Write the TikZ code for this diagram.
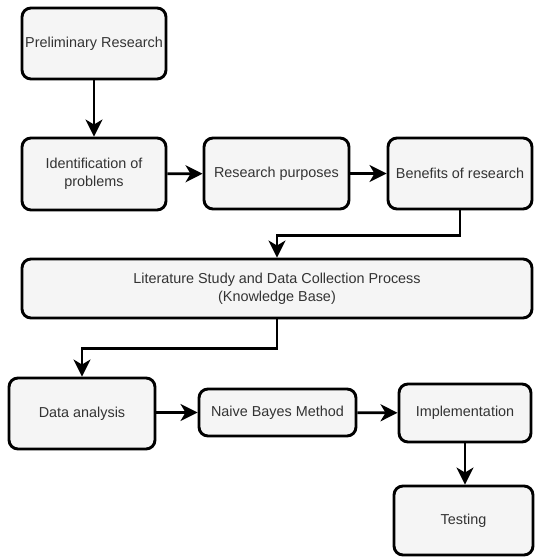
\documentclass[tikz,border=0pt]{standalone}
\usepackage{fontspec}
\setmainfont{Liberation Sans}
\usetikzlibrary{arrows.meta,positioning}
\definecolor{boxfill}{HTML}{F5F5F5}
\definecolor{txt}{HTML}{333333}
\tikzset{
  stepbox/.style={draw=black, fill=boxfill, line width=2.9pt, rounded corners=9pt,
    inner sep=0pt, align=center, text=txt,
    font=\fontsize{14.4}{18}\selectfont},
  arr/.style={line width=2.8pt, -{Stealth[length=17pt,width=17pt,inset=5pt]}}
}
\begin{document}
\begin{tikzpicture}[x=1pt,y=-1pt]
\useasboundingbox (0,0) rectangle (535,558);
\node[stepbox, minimum width=144pt, minimum height=71pt] (b1) at (94,43.5) {Preliminary Research};
\node[stepbox, minimum width=144pt, minimum height=72pt] (b2) at (94,174) {Identification of\\problems};
\node[stepbox, minimum width=145pt, minimum height=71pt] (b3) at (276.5,173.5) {Research purposes};
\node[stepbox, minimum width=144pt, minimum height=71pt] (b4) at (460,173.5) {Benefits of research};
\node[stepbox, minimum width=510pt, minimum height=59pt] (b5) at (277,288.5) {Literature Study and Data Collection Process\\(Knowledge Base)};
\node[stepbox, minimum width=146pt, minimum height=71pt] (b6) at (82,413.5) {Data analysis};
\node[stepbox, minimum width=157pt, minimum height=47pt] (b7) at (277.5,412.5) {Naive Bayes Method};
\node[stepbox, minimum width=132pt, minimum height=58pt] (b8) at (465,413) {Implementation};
\node[stepbox, minimum width=139pt, minimum height=69pt] (b9) at (463.5,520.5) {Testing};
\draw[arr] (b1) -- (b2);
\draw[arr] (b2) -- (b3);
\draw[arr] (b3) -- (b4);
\draw[arr] (b4.south) -- ++(0,25) -| (b5.north);
\draw[arr] (b5.south) -- ++(0,29) -| (b6.north);
\draw[arr] (b6.east |- b7.west) -- (b7.west);
\draw[arr] (b7) -- (b8);
\draw[arr] (b8.south) -- (b8.south |- b9.north);
\end{tikzpicture}
\end{document}
